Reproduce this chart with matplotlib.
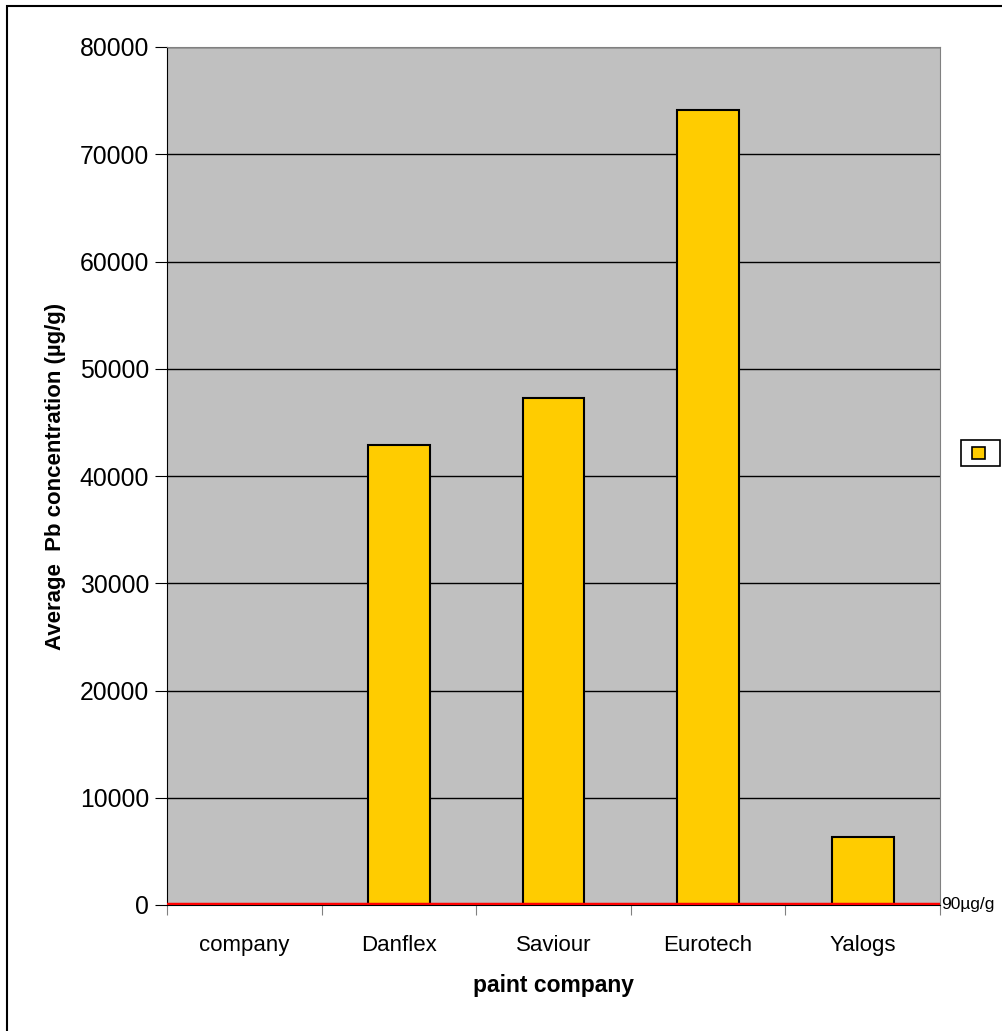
import matplotlib
matplotlib.use('Agg')
import matplotlib.pyplot as plt
from matplotlib.patches import Rectangle

companies = ['company', 'Danflex', 'Saviour', 'Eurotech', 'Yalogs']
pb_avg = [0, 42900, 47300, 74100, 6300]
limit = 90
limit_label = '90µg/g'
y_ticks = [0, 10000, 20000, 30000, 40000, 50000, 60000, 70000, 80000]

plt.rcParams['font.family'] = ['Liberation Sans', 'DejaVu Sans']

fig = plt.figure(figsize=(10.03, 10.31), dpi=100)
ax = fig.add_axes([167 / 1003, 1 - 905 / 1031, 773 / 1003, 858 / 1031])
ax.set_facecolor('#C0C0C0')

x = list(range(len(companies)))
ax.bar(x, pb_avg, width=0.4, color='#FFCC00', edgecolor='black', linewidth=1.5, zorder=3)
ax.axhline(limit, color='#FF0000', linewidth=2.5, zorder=4)
ax.text(len(companies) - 0.5 + 0.01, limit, limit_label, fontsize=12.5,
        va='center', ha='left')

ax.set_xlim(-0.5, len(companies) - 0.5)
ax.set_ylim(0, 80000)
ax.set_yticks(y_ticks)
ax.set_yticklabels([str(v) for v in y_ticks], fontsize=17.8)
ax.yaxis.grid(True, color='black', linewidth=1, zorder=0)
ax.set_axisbelow(True)

# category boundaries as major ticks, names on minor ticks
ax.set_xticks([i - 0.5 for i in range(len(companies) + 1)])
ax.set_xticklabels([])
ax.set_xticks(x, minor=True)
ax.set_xticklabels(companies, minor=True, fontsize=16)
for lbl in ax.get_xticklabels(minor=True):
    lbl.set_verticalalignment('baseline')
ax.tick_params(axis='x', which='major', length=7, direction='out', color='#808080')
ax.tick_params(axis='x', which='minor', length=0, pad=33)
ax.tick_params(axis='y', length=9, direction='out', pad=4)

ax.spines['left'].set_color('black')
ax.spines['bottom'].set_color('black')
ax.spines['top'].set_color('#808080')
ax.spines['right'].set_color('#808080')

ax.set_xlabel('paint company', fontsize=16.5, fontweight='bold')
ax.xaxis.set_label_coords(0.5, -0.081)
ax.set_ylabel('Average  Pb concentration (µg/g)', fontsize=16, fontweight='bold', labelpad=10)

# legend box with an unlabeled swatch
fig.patches.append(Rectangle((961 / 1003, 1 - 466 / 1031), 39 / 1003, 26 / 1031,
                             transform=fig.transFigure, facecolor='white',
                             edgecolor='black', linewidth=1.2))
fig.patches.append(Rectangle((972 / 1003, 1 - 459 / 1031), 13 / 1003, 12 / 1031,
                             transform=fig.transFigure, facecolor='#FFCC00',
                             edgecolor='black', linewidth=1.2))
# outer chart frame
fig.patches.append(Rectangle((7 / 1003, -0.1), 1.2, 1.1 - 6 / 1031,
                             transform=fig.transFigure, facecolor='none',
                             edgecolor='black', linewidth=1.5))

fig.savefig('out.png', dpi=100)
